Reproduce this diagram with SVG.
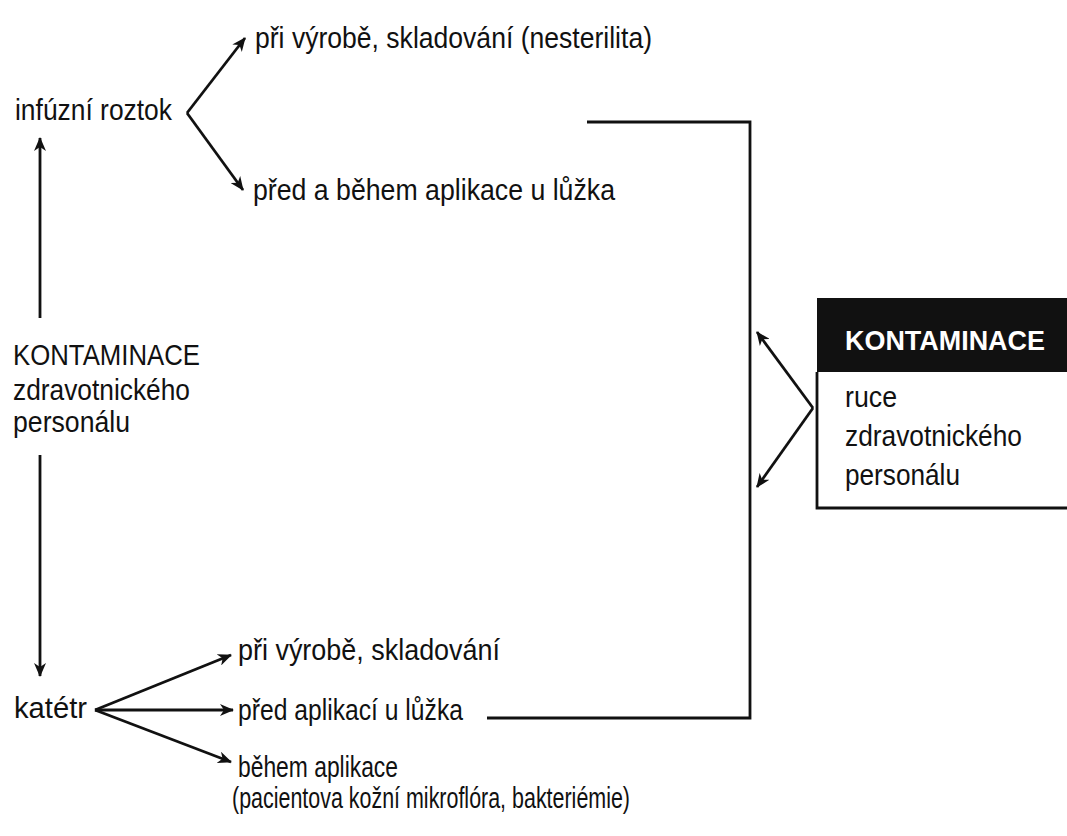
<svg xmlns="http://www.w3.org/2000/svg" width="1067" height="836" viewBox="0 0 1067 836">
<style>
text{font-family:"Liberation Sans",Arial,sans-serif;font-size:30px;fill:#111}
.hd{font-weight:bold;fill:#fff;font-size:28px}
.ln{fill:none;stroke:#111;stroke-width:2.8}
</style>
<defs>
<marker id="ah" viewBox="0 0 14 12" refX="13" refY="6" markerWidth="14" markerHeight="12" markerUnits="userSpaceOnUse" orient="auto">
<path d="M0,0 L14,6 L0,12 L4,6 Z" fill="#111"/>
</marker>
</defs>
<rect width="1067" height="836" fill="#fff"/>
<g id="connectors">
<path class="ln" d="M40,318 L40,138" marker-end="url(#ah)"/>
<path class="ln" d="M40,455 L40,676" marker-end="url(#ah)"/>
<path class="ln" d="M187,113 L245,38" marker-end="url(#ah)"/>
<path class="ln" d="M187,113 L243,190" marker-end="url(#ah)"/>
<path class="ln" d="M587,122 L750,122 L750,718 L487,718"/>
<path class="ln" d="M813,408 L757,332" marker-end="url(#ah)"/>
<path class="ln" d="M813,408 L757,487" marker-end="url(#ah)"/>
<path class="ln" d="M95,710 L231,655" marker-end="url(#ah)"/>
<path class="ln" d="M95,710 L233,710" marker-end="url(#ah)"/>
<path class="ln" d="M95,710 L231,762" marker-end="url(#ah)"/>
</g>
<g id="infuzni">
<text x="15" y="120" textLength="157" lengthAdjust="spacingAndGlyphs">infúzní roztok</text>
</g>
<g id="infuzni-vyroba">
<text x="255" y="48" textLength="397" lengthAdjust="spacingAndGlyphs">při výrobě, skladování (nesterilita)</text>
</g>
<g id="infuzni-aplikace">
<text x="253" y="200" textLength="362" lengthAdjust="spacingAndGlyphs">před a během aplikace u lůžka</text>
</g>
<g id="kontaminace-personal">
<text x="13" y="365" textLength="187" lengthAdjust="spacingAndGlyphs">KONTAMINACE</text>
<text x="13" y="400" textLength="177" lengthAdjust="spacingAndGlyphs">zdravotnického</text>
<text x="13" y="432" textLength="117" lengthAdjust="spacingAndGlyphs">personálu</text>
</g>
<g id="kontaminace-ruce">
<rect x="817" y="298" width="250" height="74" fill="#111"/>
<path class="ln" d="M817,372 L817,508 L1067,508"/>
<text class="hd" x="845" y="350" textLength="200" lengthAdjust="spacingAndGlyphs">KONTAMINACE</text>
<text x="845" y="407" textLength="52" lengthAdjust="spacingAndGlyphs">ruce</text>
<text x="845" y="446" textLength="177" lengthAdjust="spacingAndGlyphs">zdravotnického</text>
<text x="845" y="485" textLength="115" lengthAdjust="spacingAndGlyphs">personálu</text>
</g>
<g id="katetr">
<text x="14" y="718" textLength="73" lengthAdjust="spacingAndGlyphs">katétr</text>
</g>
<g id="katetr-vyroba">
<text x="238" y="660" textLength="262" lengthAdjust="spacingAndGlyphs">při výrobě, skladování</text>
</g>
<g id="katetr-pred">
<text x="238" y="720" textLength="225" lengthAdjust="spacingAndGlyphs">před aplikací u lůžka</text>
</g>
<g id="katetr-behem">
<text x="238" y="777" textLength="160" lengthAdjust="spacingAndGlyphs">během aplikace</text>
<text x="232" y="808" textLength="398" lengthAdjust="spacingAndGlyphs">(pacientova kožní mikroflóra, bakteriémie)</text>
</g>
</svg>
